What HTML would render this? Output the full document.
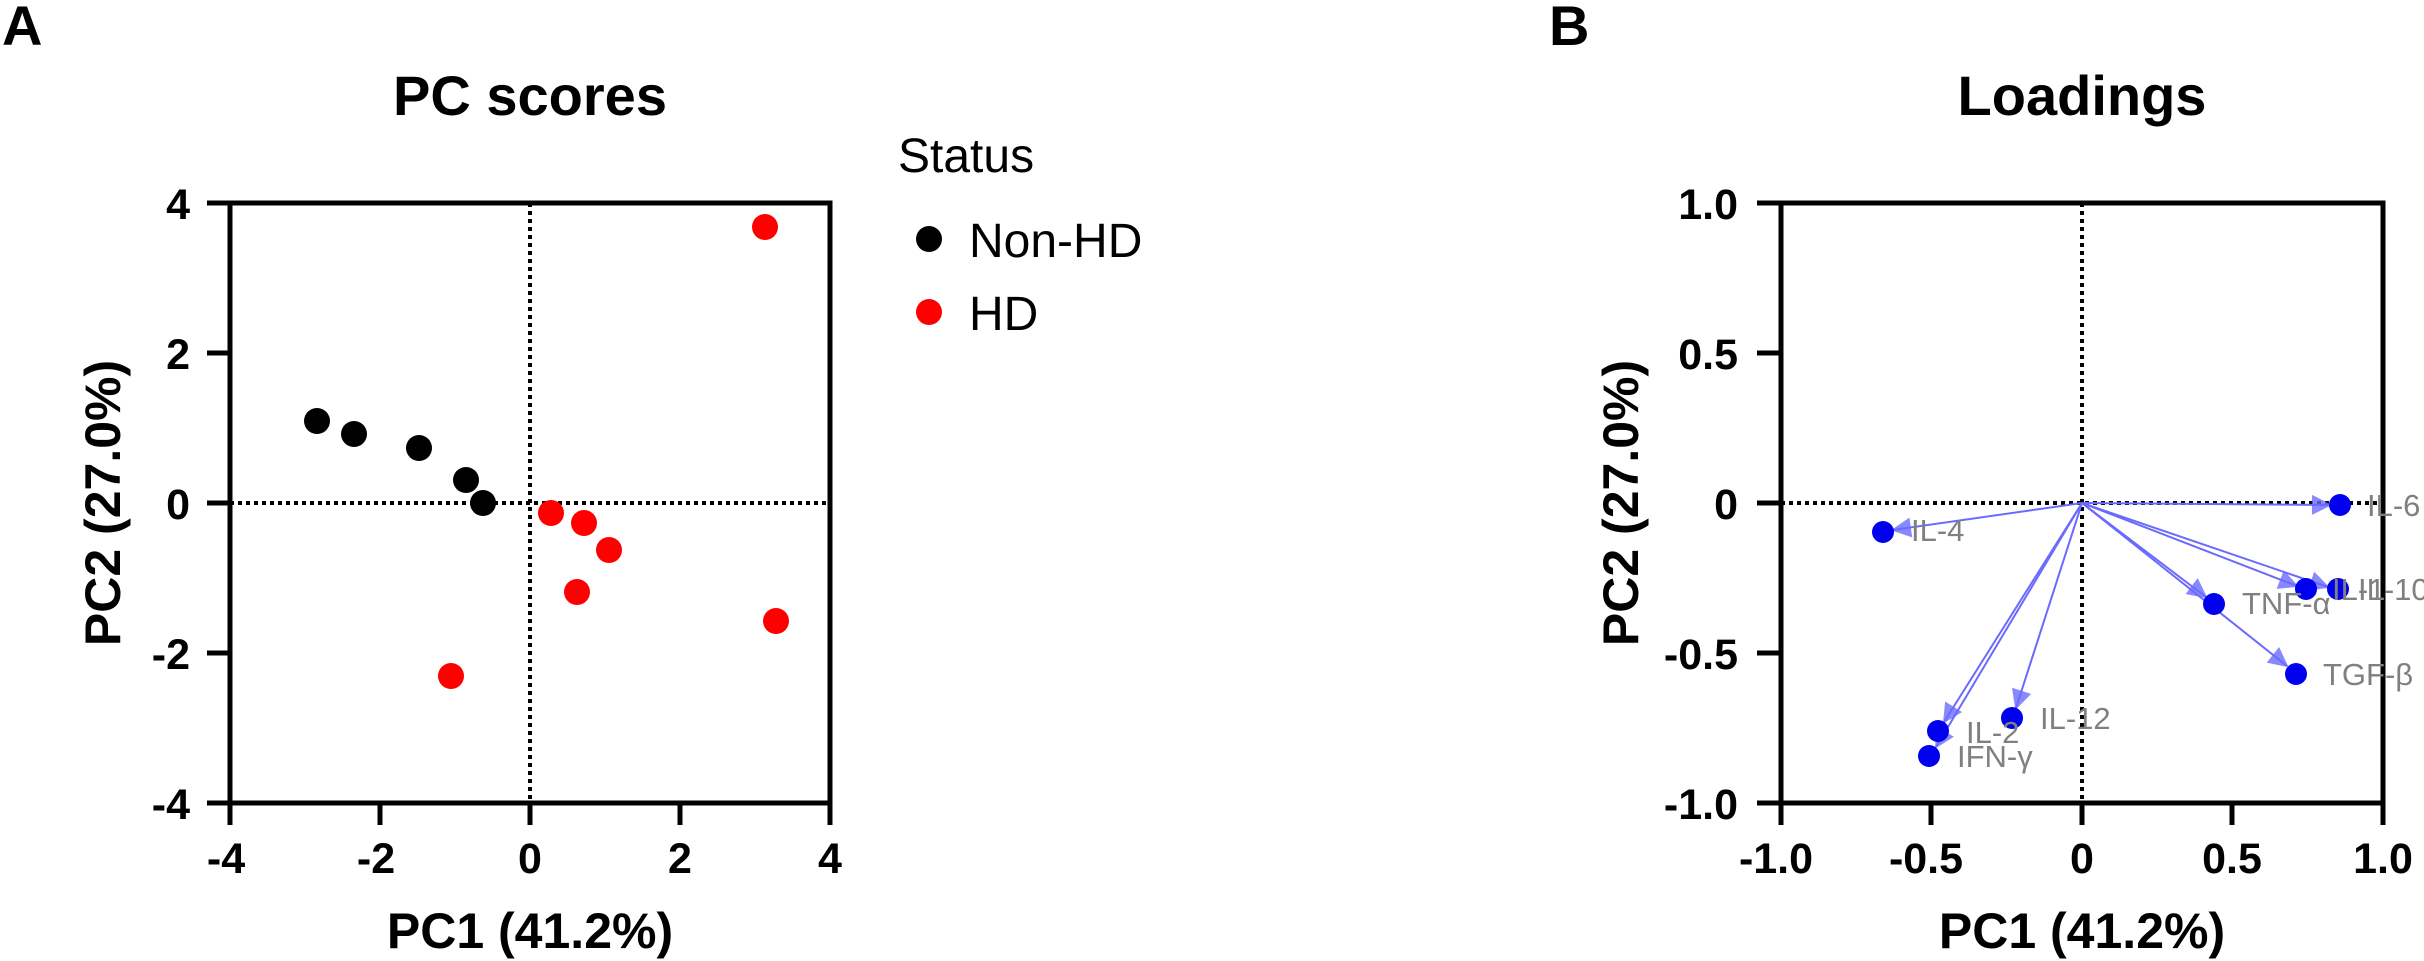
<!DOCTYPE html>
<html><head><meta charset="utf-8"><style>html,body{margin:0;padding:0;background:#fff}svg{display:block}</style></head>
<body>
<svg width="2424" height="961" viewBox="0 0 2424 961" xmlns="http://www.w3.org/2000/svg" font-family="Liberation Sans, Arial, sans-serif">
<defs>
<marker id="ah" viewBox="0 0 10 10" refX="9" refY="5" markerWidth="11" markerHeight="10" orient="auto" markerUnits="strokeWidth">
<path d="M0,0 L10,5 L0,10 z" fill="#6a6aff" fill-opacity="0.8"/>
</marker>
</defs>
<text x="2" y="45" font-size="56" font-weight="bold">A</text>
<text x="1549" y="45" font-size="56" font-weight="bold">B</text>

<!-- ===== Panel A ===== -->
<text x="530" y="115" font-size="56" font-weight="bold" text-anchor="middle">PC scores</text>
<line x1="530" y1="203" x2="530" y2="803" stroke="#000" stroke-width="4" stroke-dasharray="4,4"/>
<line x1="230" y1="503" x2="830" y2="503" stroke="#000" stroke-width="4" stroke-dasharray="4,4"/>
<rect x="230" y="203" width="600" height="600" fill="none" stroke="#000" stroke-width="5"/>
<g stroke="#000" stroke-width="5">
<line x1="207" y1="203" x2="230" y2="203"/><line x1="207" y1="353" x2="230" y2="353"/>
<line x1="207" y1="503" x2="230" y2="503"/><line x1="207" y1="653" x2="230" y2="653"/>
<line x1="207" y1="803" x2="230" y2="803"/>
<line x1="230" y1="803" x2="230" y2="825"/><line x1="380" y1="803" x2="380" y2="825"/>
<line x1="530" y1="803" x2="530" y2="825"/><line x1="680" y1="803" x2="680" y2="825"/>
<line x1="830" y1="803" x2="830" y2="825"/>
</g>
<g font-size="43" font-weight="bold" text-anchor="end">
<text x="190" y="219">4</text><text x="190" y="369">2</text><text x="190" y="519">0</text>
<text x="190" y="669">-2</text><text x="190" y="819">-4</text>
</g>
<g font-size="43" font-weight="bold" text-anchor="middle">
<text x="226" y="873">-4</text><text x="376" y="873">-2</text><text x="530" y="873">0</text>
<text x="680" y="873">2</text><text x="830" y="873">4</text>
</g>
<text x="530" y="948" font-size="50" font-weight="bold" text-anchor="middle">PC1 (41.2%)</text>
<text transform="translate(120,503) rotate(-90)" font-size="50" font-weight="bold" text-anchor="middle">PC2 (27.0%)</text>
<g fill="#000">
<circle cx="317" cy="421" r="13"/><circle cx="354" cy="434" r="13"/><circle cx="419" cy="448" r="13"/>
<circle cx="466" cy="480" r="13"/><circle cx="483" cy="503" r="13"/>
</g>
<g fill="#ff0000">
<circle cx="551" cy="513" r="13"/><circle cx="765" cy="227" r="13"/><circle cx="584" cy="523" r="13"/>
<circle cx="609" cy="550" r="13"/><circle cx="577" cy="592" r="13"/><circle cx="776" cy="621" r="13"/>
<circle cx="451" cy="676" r="13"/>
</g>
<text x="898" y="172" font-size="48">Status</text>
<circle cx="929" cy="239" r="13" fill="#000"/>
<text x="969" y="257" font-size="48">Non-HD</text>
<circle cx="929" cy="312" r="13" fill="#ff0000"/>
<text x="969" y="330" font-size="48">HD</text>

<!-- ===== Panel B ===== -->
<text x="2082" y="115" font-size="56" font-weight="bold" text-anchor="middle">Loadings</text>
<line x1="2082" y1="203" x2="2082" y2="803" stroke="#000" stroke-width="4" stroke-dasharray="4,4"/>
<line x1="1781" y1="503" x2="2383" y2="503" stroke="#000" stroke-width="4" stroke-dasharray="4,4"/>
<rect x="1781" y="203" width="602" height="600" fill="none" stroke="#000" stroke-width="5"/>
<g stroke="#000" stroke-width="5">
<line x1="1757" y1="203" x2="1781" y2="203"/><line x1="1757" y1="353" x2="1781" y2="353"/>
<line x1="1757" y1="503" x2="1781" y2="503"/><line x1="1757" y1="653" x2="1781" y2="653"/>
<line x1="1757" y1="803" x2="1781" y2="803"/>
<line x1="1781" y1="803" x2="1781" y2="825"/><line x1="1931" y1="803" x2="1931" y2="825"/>
<line x1="2082" y1="803" x2="2082" y2="825"/><line x1="2232" y1="803" x2="2232" y2="825"/>
<line x1="2383" y1="803" x2="2383" y2="825"/>
</g>
<g font-size="43" font-weight="bold" text-anchor="end">
<text x="1738" y="219">1.0</text><text x="1738" y="369">0.5</text><text x="1738" y="519">0</text>
<text x="1738" y="669">-0.5</text><text x="1738" y="819">-1.0</text>
</g>
<g font-size="43" font-weight="bold" text-anchor="middle">
<text x="1776" y="873">-1.0</text><text x="1926" y="873">-0.5</text><text x="2082" y="873">0</text>
<text x="2232" y="873">0.5</text><text x="2383" y="873">1.0</text>
</g>
<text x="2082" y="948" font-size="50" font-weight="bold" text-anchor="middle">PC1 (41.2%)</text>
<text transform="translate(1638,503) rotate(-90)" font-size="50" font-weight="bold" text-anchor="middle">PC2 (27.0%)</text>
<g stroke="#6a6aff" stroke-width="2" marker-end="url(#ah)">
<line x1="2082" y1="503" x2="1893" y2="530"/>
<line x1="2082" y1="503" x2="2330" y2="505"/>
<line x1="2082" y1="503" x2="2297" y2="586"/>
<line x1="2082" y1="503" x2="2328" y2="587"/>
<line x1="2082" y1="503" x2="2206" y2="597"/>
<line x1="2082" y1="503" x2="2287" y2="666"/>
<line x1="2082" y1="503" x2="2016" y2="708"/>
<line x1="2082" y1="503" x2="1944" y2="722"/>
<line x1="2082" y1="503" x2="1936" y2="747"/>
</g>
<g fill="#0000ee">
<circle cx="1883" cy="532" r="11"/><circle cx="2340" cy="505" r="11"/><circle cx="2306" cy="589" r="11"/>
<circle cx="2338" cy="589" r="11"/><circle cx="2214" cy="604" r="11"/><circle cx="2296" cy="674" r="11"/>
<circle cx="2012" cy="718" r="11"/><circle cx="1938" cy="731" r="11"/><circle cx="1929" cy="756" r="11"/>
</g>
<g font-size="31" fill="#808080">
<text x="1911" y="541">IL-4</text>
<text x="2367" y="516">IL-6</text>
<text x="2332" y="600">IL-1</text>
<text x="2358" y="600">IL-10</text>
<text x="2242" y="614">TNF-α</text>
<text x="2323" y="685">TGF-β</text>
<text x="2040" y="729">IL-12</text>
<text x="1966" y="743">IL-2</text>
<text x="1957" y="767">IFN-γ</text>
</g>
</svg>
</body></html>
